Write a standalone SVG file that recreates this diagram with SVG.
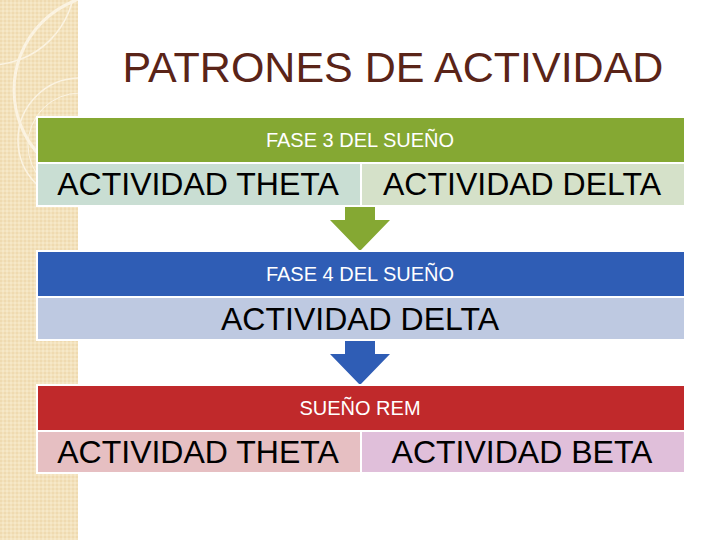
<svg xmlns="http://www.w3.org/2000/svg" width="720" height="540" viewBox="0 0 720 540">
<defs>
<pattern id="dots" width="4" height="4" patternUnits="userSpaceOnUse">
<rect width="4" height="4" fill="#f3e2bd"/>
<rect width="2" height="2" fill="#efdab0"/>
<rect x="2" y="2" width="2" height="2" fill="#f6e8c8"/>
</pattern>
<clipPath id="strip"><rect x="0" y="0" width="78" height="540"/></clipPath>
</defs>
<style>
.hdr{stroke:#ffffff;stroke-width:2}
.sub{stroke:#ffffff;stroke-width:2}
.ht{font-family:"Liberation Sans",Arial,sans-serif;font-size:20px;fill:#ffffff;text-anchor:middle}
.st{font-family:"Liberation Sans",Arial,sans-serif;font-size:32px;fill:#000000;text-anchor:middle}
.deco{fill:none;stroke:#fbf3e2}
</style>
<rect x="0" y="0" width="720" height="540" fill="#ffffff"/>
<g id="background">
<rect x="0" y="0" width="78" height="540" fill="url(#dots)"/>
<g clip-path="url(#strip)">
<circle cx="110" cy="90" r="96" class="deco" stroke-width="3"/>
<circle cx="-10" cy="-20" r="85" class="deco" stroke-width="1.5"/>
<circle cx="80" cy="140" r="62" class="deco" stroke-width="1.5"/>
<circle cx="80" cy="145" r="52" class="deco" stroke-width="1"/>
</g>
<text x="393" y="82" font-family="'Liberation Sans',Arial,sans-serif" font-size="43" fill="#5a2418" text-anchor="middle">PATRONES DE ACTIVIDAD</text>
</g>
<g id="connectors">
<polygon points="345,205 375,205 375,220 390,220 360,251 330,220 345,220" fill="#85a833"/>
<polygon points="345,340 375,340 375,354 390,354 360,385 330,354 345,354" fill="#2f5db5"/>
</g>
<g id="fase3">
<rect x="37" y="117" width="648" height="46" fill="#85a833" class="hdr"/>
<text x="360" y="147" class="ht">FASE 3 DEL SUEÑO</text>
<rect x="37" y="163" width="324" height="43" fill="#c9ded3" class="sub"/>
<text x="198" y="195" class="st">ACTIVIDAD THETA</text>
<rect x="361" y="163" width="324" height="43" fill="#d5e1c9" class="sub"/>
<text x="522" y="195" class="st">ACTIVIDAD DELTA</text>
</g>
<g id="fase4">
<rect x="37" y="251" width="648" height="46" fill="#2f5db5" class="hdr"/>
<text x="360" y="281" class="ht">FASE 4 DEL SUEÑO</text>
<rect x="37" y="297" width="648" height="43" fill="#bec9e1" class="sub"/>
<text x="360" y="330" class="st">ACTIVIDAD DELTA</text>
</g>
<g id="rem">
<rect x="37" y="385" width="648" height="46" fill="#c0292b" class="hdr"/>
<text x="360" y="415" class="ht">SUEÑO REM</text>
<rect x="37" y="431" width="324" height="42" fill="#e6bfc2" class="sub"/>
<text x="198" y="463" class="st">ACTIVIDAD THETA</text>
<rect x="361" y="431" width="324" height="42" fill="#e0bfda" class="sub"/>
<text x="522" y="463" class="st">ACTIVIDAD BETA</text>
</g>
</svg>
